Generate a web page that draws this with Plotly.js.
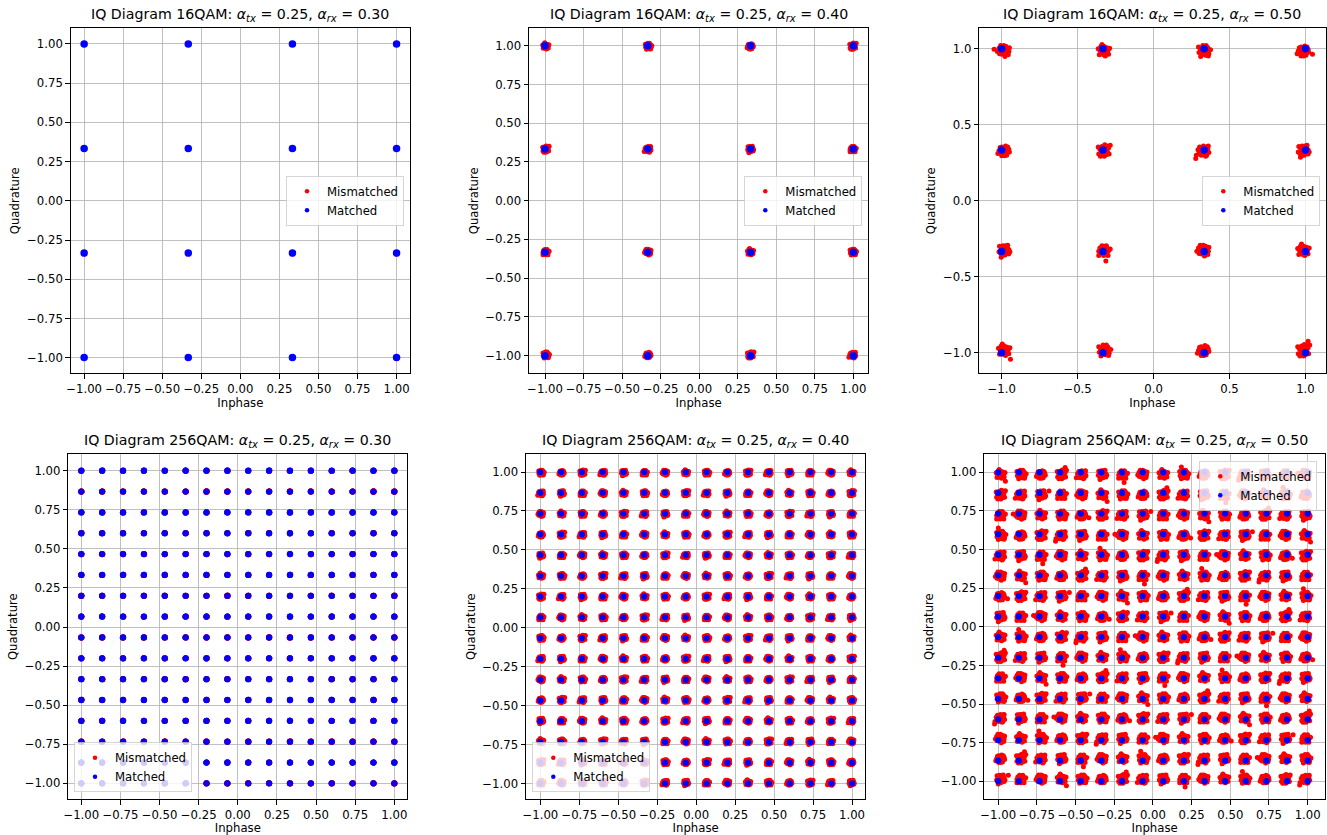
<!DOCTYPE html>
<html>
<head>
<meta charset="utf-8">
<script src="https://cdn.plot.ly/plotly-3.0.1.min.js"></script>
<style>
html, body { margin: 0; padding: 0; background: #ffffff; }
#chart { width: 1327px; height: 835px; }
</style>
</head>
<body>
<div id="chart"></div>
<script>
// ---------------- data ----------------
const LEVELS_16QAM = [-1, -0.3333, 0.3333, 1];
const LEVELS_256QAM = [-1, -0.8667, -0.7333, -0.6, -0.4667, -0.3333, -0.2, -0.0667,
                       0.0667, 0.2, 0.3333, 0.4667, 0.6, 0.7333, 0.8667, 1];
const MODULATION = ['16QAM', '16QAM', '16QAM', '256QAM', '256QAM', '256QAM'];
const ALPHA_TX = ['0.25', '0.25', '0.25', '0.25', '0.25', '0.25'];
const ALPHA_RX = ['0.30', '0.40', '0.50', '0.30', '0.40', '0.50'];
const SERIES_NAMES = ['Mismatched', 'Matched'];
// spread (cloud radius, in IQ units) and amplitude gain of the mismatched clouds, read per panel
const CLUSTER_SPREAD = [0.003, 0.019, 0.036, 0.004, 0.016, 0.027];
const CLUSTER_GAIN = [1.0, 0.996, 0.985, 1.0, 0.996, 0.986];
// shapes of the mismatched clouds (offsets in units of the spread)
const CLUSTER_SHAPES = [
  [[0,0],[0.5,0.1],[-0.5,0.2],[0.2,0.5],[-0.1,-0.5],[0.6,-0.4],[-0.6,-0.4],[0.3,0.9],[-0.4,0.7],[0.9,0.3],[-0.9,0.0],[0.1,-0.9],[0.7,0.7],[-0.7,0.6],[0.5,-0.8],[-0.4,-0.9],[1.0,-0.2],[-0.2,0.2],[0.3,-0.2],[-1.1,-0.5]],
  [[0.1,0.1],[-0.4,-0.1],[0.4,0.3],[0.0,0.6],[0.2,-0.5],[-0.6,0.4],[0.7,-0.1],[-0.3,-0.7],[0.8,0.6],[-0.8,-0.3],[0.4,-0.8],[-0.1,1.0],[1.0,-0.5],[-0.9,0.7],[0.5,1.0],[-0.5,-1.0],[0.9,-0.9],[1.3,0.2],[-0.2,0.3],[0.2,0.0]],
  [[-0.1,0.0],[0.3,0.2],[-0.3,0.4],[0.5,-0.3],[-0.5,-0.3],[0.1,0.8],[-0.7,0.1],[0.8,0.1],[0.0,-0.7],[0.6,0.6],[-0.5,0.8],[-0.8,-0.7],[0.3,-0.9],[0.9,-0.6],[-1.0,0.4],[0.2,0.4],[-0.2,-0.3],[1.1,0.5],[0.6,-0.1],[-0.3,1.2]],
  [[0.2,-0.1],[-0.2,0.1],[0.6,0.3],[-0.6,0.0],[0.1,0.5],[0.0,-0.5],[0.5,-0.6],[-0.4,-0.6],[-0.3,0.7],[0.9,-0.1],[0.4,0.8],[-0.9,0.5],[-0.8,-0.5],[0.8,-0.7],[0.0,1.0],[0.2,-1.0],[1.0,0.6],[-0.6,1.0],[-1.2,-0.1],[0.4,0.1]],
  [[0.0,0.2],[0.4,-0.1],[-0.4,0.3],[0.2,-0.4],[-0.3,-0.3],[0.7,0.4],[-0.7,0.5],[0.6,-0.6],[-0.6,-0.6],[0.1,0.8],[0.0,-0.9],[0.9,0.0],[-0.9,-0.1],[0.5,0.9],[-0.3,0.9],[0.8,-0.9],[-0.9,-0.9],[1.2,0.3],[0.3,0.3],[-0.1,-0.1]],
  [[-0.1,-0.1],[0.3,0.0],[-0.4,0.1],[0.1,0.4],[0.0,-0.4],[0.6,0.5],[-0.5,0.6],[0.6,-0.4],[-0.6,-0.5],[0.9,0.2],[-0.9,-0.2],[0.3,0.9],[0.2,-0.8],[-0.3,-0.9],[-0.2,0.9],[0.9,-0.6],[-0.8,0.8],[0.7,1.0],[1.1,-0.2],[-0.5,-1.2]],
  [[0.1,0.0],[-0.3,-0.2],[0.3,0.4],[-0.2,0.5],[0.5,-0.2],[-0.6,0.2],[0.2,-0.6],[0.8,0.3],[-0.8,-0.4],[-0.4,-0.8],[0.6,-0.8],[0.0,0.9],[0.7,0.8],[-0.7,0.7],[1.0,-0.3],[-1.0,0.2],[0.4,-1.0],[-0.2,-0.1],[0.9,0.9],[-1.3,-0.8]],
  [[0.0,-0.1],[0.4,0.2],[-0.4,-0.3],[0.2,0.6],[-0.2,-0.6],[0.7,-0.2],[-0.7,0.3],[0.5,-0.7],[-0.3,0.8],[0.9,0.5],[-0.9,-0.6],[0.1,-1.0],[0.6,0.9],[-0.6,-1.0],[1.0,-0.6],[-1.0,0.7],[0.3,-0.3],[-0.1,0.3],[0.2,1.1],[1.2,1.0]]
];
// occasional stray samples of the widest clouds (offsets in units of the spread)
const CLUSTER_TAILS = [
  [[1.7,-0.6]], [[-0.5,1.8]], [[1.2,-1.6]], [[-1.8,0.3]],
  [[0.4,-1.9]], [[1.9,0.9]], [[-1.4,-1.4]], [[0.9,1.7]]
];

// ---------------- layout config ----------------
const W = 1327, H = 835;
const BOXES = [ // pixel boxes [left, right, top, bottom]
  [70.7, 410.0, 28.3, 373.3],
  [529.0, 868.3, 28.3, 373.3],
  [979.3, 1325.5, 28.3, 373.3],
  [68.3, 407.3, 454.3, 799.0],
  [526.0, 865.3, 454.3, 799.0],
  [984.3, 1325.0, 454.3, 799.0]
];
const XR = [[-1.086, 1.086], [-1.104, 1.097], [-1.147, 1.132], [-1.083, 1.083], [-1.092, 1.085], [-1.09, 1.112]];
const YR = [[-1.1, 1.1], [-1.114, 1.112], [-1.135, 1.134], [-1.10, 1.105], [-1.10, 1.114], [-1.115, 1.117]];
const LEGENDS = [
  {x: 404.0, y: 200.8, xanchor: 'right', yanchor: 'middle'},
  {x: 862.3, y: 200.8, xanchor: 'right', yanchor: 'middle'},
  {x: 1320.3, y: 200.8, xanchor: 'right', yanchor: 'middle'},
  {x: 74.0, y: 792.3, xanchor: 'left', yanchor: 'bottom'},
  {x: 532.3, y: 792.3, xanchor: 'left', yanchor: 'bottom'},
  {x: 1317.3, y: 460.7, xanchor: 'right', yanchor: 'top'}
];
const FONT = 'DejaVu Sans, Verdana, sans-serif';
const TICK_SIZE = 11.7;

const data = [];
const layout = {
  width: W, height: H,
  margin: {l: 0, r: 0, t: 0, b: 0},
  paper_bgcolor: '#ffffff', plot_bgcolor: '#ffffff',
  font: {family: FONT, size: TICK_SIZE, color: '#000000'},
  showlegend: true,
  annotations: []
};

for (let p = 0; p < 6; p++) {
  const levels = MODULATION[p] === '16QAM' ? LEVELS_16QAM : LEVELS_256QAM;
  const n = p + 1;
  const xa = 'x' + (n === 1 ? '' : n), ya = 'y' + (n === 1 ? '' : n);
  const legendId = 'legend' + (n === 1 ? '' : n);
  const spread = CLUSTER_SPREAD[p], gain = CLUSTER_GAIN[p];
  const withTails = ALPHA_RX[p] === '0.50';

  // mismatched clouds
  const mx = [], my = [];
  levels.forEach((qv, b) => {
    levels.forEach((iv, a) => {
      const k = (a * 7 + b * 3 + p) % CLUSTER_SHAPES.length;
      let pts = CLUSTER_SHAPES[k];
      if (withTails && (a + 2 * b) % 3 === 0) pts = pts.concat(CLUSTER_TAILS[k]);
      pts.forEach(o => { mx.push(gain * iv + spread * o[0]); my.push(gain * qv + spread * o[1]); });
    });
  });
  // matched constellation
  const cx = [], cy = [];
  levels.forEach(qv => levels.forEach(iv => { cx.push(iv); cy.push(qv); }));

  const blueSize = MODULATION[p] === '16QAM' ? 7.5 : 6.3;
  data.push({type: 'scatter', mode: 'markers', x: mx, y: my, xaxis: xa, yaxis: ya,
    name: SERIES_NAMES[0], showlegend: false, hoverinfo: 'skip',
    marker: {color: '#ff0000', size: 5, line: {width: 0}}});
  data.push({type: 'scatter', mode: 'markers', x: cx, y: cy, xaxis: xa, yaxis: ya,
    name: SERIES_NAMES[1], showlegend: false, hoverinfo: 'skip',
    marker: {color: '#0000ff', size: blueSize, line: {width: 0}}});
  // legend entries
  data.push({type: 'scatter', mode: 'markers', x: [null], y: [null], xaxis: xa, yaxis: ya,
    name: SERIES_NAMES[0], legend: legendId, showlegend: true,
    marker: {color: '#ff0000', size: 4.5}});
  data.push({type: 'scatter', mode: 'markers', x: [null], y: [null], xaxis: xa, yaxis: ya,
    name: SERIES_NAMES[1], legend: legendId, showlegend: true,
    marker: {color: '#0000ff', size: 4.5}});

  const bx = BOXES[p];
  const is05 = p === 2;
  const axisCommon = {
    showgrid: true, gridcolor: '#b0b0b0', gridwidth: 0.8,
    zeroline: false, showline: true, mirror: true, linecolor: '#000000', linewidth: 1,
    ticks: 'outside', ticklen: 4.5, tickwidth: 1, tickcolor: '#000000',
    dtick: is05 ? 0.5 : 0.25, tick0: 0, tickformat: is05 ? '.1f' : '.2f',
    tickfont: {family: FONT, size: TICK_SIZE, color: '#000000'},
    fixedrange: true
  };
  layout['xaxis' + (n === 1 ? '' : n)] = Object.assign({}, axisCommon, {
    domain: [bx[0] / W, bx[1] / W], anchor: ya, range: XR[p],
    title: {text: 'Inphase', font: {family: FONT, size: TICK_SIZE}, standoff: 2}
  });
  layout['yaxis' + (n === 1 ? '' : n)] = Object.assign({}, axisCommon, {
    domain: [1 - bx[3] / H, 1 - bx[2] / H], anchor: xa, range: YR[p],
    title: {text: 'Quadrature', font: {family: FONT, size: TICK_SIZE}, standoff: 4}
  });
  const lg = LEGENDS[p];
  layout[legendId] = {
    x: lg.x / W, y: 1 - lg.y / H, xanchor: lg.xanchor, yanchor: lg.yanchor,
    xref: 'paper', yref: 'paper',
    bgcolor: 'rgba(255,255,255,0.8)', bordercolor: 'rgba(204,204,204,0.8)', borderwidth: 1,
    font: {family: FONT, size: TICK_SIZE, color: '#000000'},
    itemwidth: 30, tracegroupgap: 0, traceorder: 'normal'
  };
  const title = 'IQ Diagram ' + MODULATION[p] + ': <i>α<sub>tx</sub></i> = ' + ALPHA_TX[p] +
                ', <i>α<sub>rx</sub></i> = ' + ALPHA_RX[p];
  layout.annotations.push({
    text: title, showarrow: false, xref: 'paper', yref: 'paper',
    x: (bx[0] + bx[1]) / 2 / W, y: 1 - (bx[2] - 13.5) / H, xanchor: 'center', yanchor: 'middle',
    font: {family: FONT, size: 14.2, color: '#000000'}
  });
}

Plotly.newPlot('chart', data, layout, {displayModeBar: false, staticPlot: true});
</script>
</body>
</html>
